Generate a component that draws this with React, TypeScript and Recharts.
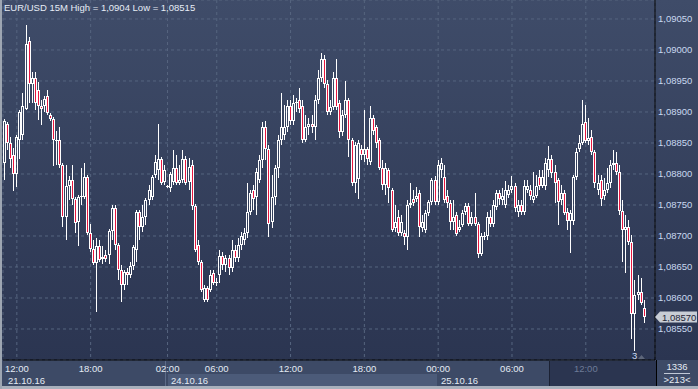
import React from "react";
import { ComposedChart, Bar, XAxis, YAxis, CartesianGrid } from "recharts";

// EUR/USD 15M, prices in 1e-5 above 1.08000: [open, high, low, close]
const ohlc: [number, number, number, number][] = [
  [818, 889, 790, 885], [881, 884, 839, 850], [850, 860, 810, 824], [831, 842, 772, 800],
  [800, 863, 779, 860], [855, 903, 824, 900], [863, 931, 855, 910], [905, 1040, 903, 1010],
  [1014, 1021, 914, 945], [945, 964, 914, 955], [955, 964, 903, 914], [935, 948, 887, 910],
  [910, 919, 879, 905], [910, 926, 900, 921], [926, 935, 895, 898], [895, 898, 885, 889],
  [889, 892, 813, 855], [853, 869, 814, 855], [855, 876, 810, 814], [814, 818, 714, 731],
  [731, 814, 693, 781], [781, 797, 758, 790], [790, 814, 750, 760], [760, 763, 705, 721],
  [722, 766, 684, 763], [763, 810, 750, 764], [763, 818, 760, 795], [795, 798, 702, 705],
  [705, 719, 674, 679], [679, 693, 653, 656], [656, 697, 577, 684], [684, 693, 658, 661],
  [663, 684, 655, 666], [669, 677, 658, 663], [669, 711, 655, 708], [708, 750, 693, 745],
  [745, 750, 677, 685], [685, 689, 629, 645], [645, 653, 594, 621], [621, 645, 613, 642],
  [642, 648, 621, 637], [637, 658, 632, 652], [652, 685, 645, 682], [677, 742, 658, 739],
  [739, 742, 693, 714], [714, 750, 706, 731], [731, 761, 718, 758], [758, 782, 750, 774],
  [763, 798, 758, 795], [798, 831, 793, 819], [806, 881, 790, 824], [824, 827, 782, 785],
  [787, 814, 782, 806], [779, 782, 777, 780], [777, 803, 771, 800], [787, 839, 782, 810],
  [810, 831, 782, 785], [785, 814, 782, 790], [790, 839, 785, 824], [824, 829, 782, 785],
  [787, 826, 774, 811], [814, 822, 742, 748], [748, 752, 674, 677], [685, 693, 653, 658],
  [658, 661, 610, 613], [597, 621, 594, 616], [616, 619, 594, 597], [613, 645, 610, 637],
  [640, 645, 621, 624], [624, 632, 619, 626], [637, 677, 624, 668], [668, 674, 645, 653],
  [653, 669, 642, 664], [664, 669, 637, 648], [648, 693, 642, 677], [677, 685, 658, 664],
  [664, 697, 658, 685], [685, 706, 677, 700], [693, 713, 685, 705], [705, 785, 697, 739],
  [739, 774, 734, 769], [774, 782, 742, 760], [763, 810, 734, 803], [790, 830, 785, 822],
  [822, 884, 810, 876], [876, 885, 822, 840], [840, 847, 698, 719], [722, 798, 713, 763],
  [763, 814, 750, 810], [810, 863, 793, 855], [855, 931, 847, 876], [863, 911, 855, 876],
  [876, 919, 868, 910], [910, 919, 879, 885], [885, 927, 879, 914], [914, 923, 900, 916],
  [919, 939, 898, 905], [910, 919, 850, 855], [855, 895, 852, 876], [876, 890, 863, 881],
  [881, 895, 866, 876], [876, 927, 855, 919], [919, 968, 913, 955], [955, 995, 948, 985],
  [985, 992, 939, 945], [945, 952, 895, 900], [900, 919, 895, 908], [908, 964, 903, 955],
  [955, 985, 903, 908], [914, 919, 858, 868], [868, 903, 861, 895], [895, 950, 890, 919],
  [919, 923, 827, 855], [855, 858, 781, 785], [785, 852, 769, 847], [792, 855, 760, 850],
  [840, 847, 822, 831], [831, 903, 819, 840], [840, 843, 814, 824], [819, 910, 814, 890],
  [890, 895, 863, 869], [876, 879, 842, 850], [855, 858, 806, 810], [810, 822, 774, 782],
  [782, 818, 766, 810], [806, 810, 753, 777], [774, 777, 706, 710], [713, 750, 706, 722],
  [731, 742, 700, 705], [705, 734, 700, 722], [705, 710, 685, 698], [698, 758, 677, 750],
  [750, 785, 745, 753], [760, 774, 748, 753], [760, 779, 755, 764], [769, 774, 698, 714],
  [713, 734, 706, 722], [710, 742, 705, 737], [737, 758, 732, 755], [755, 793, 750, 790],
  [790, 797, 750, 755], [755, 822, 750, 814], [806, 826, 793, 818], [795, 814, 753, 758],
  [764, 774, 745, 753], [753, 758, 710, 722], [722, 758, 710, 731], [734, 739, 700, 703],
  [710, 726, 706, 714], [718, 742, 714, 737], [739, 753, 734, 748], [748, 753, 716, 719],
  [719, 739, 716, 731], [731, 769, 716, 719], [719, 722, 664, 671], [671, 705, 668, 700],
  [698, 706, 693, 700], [700, 739, 693, 731], [731, 742, 714, 719], [719, 758, 714, 750],
  [747, 774, 742, 769], [769, 774, 750, 760], [758, 777, 750, 764], [750, 789, 745, 774],
  [766, 782, 761, 774], [774, 797, 769, 781], [781, 785, 739, 745], [739, 758, 731, 750],
  [750, 758, 734, 739], [739, 790, 734, 781], [774, 790, 769, 781], [774, 782, 758, 764],
  [758, 803, 753, 764], [764, 798, 761, 781], [795, 806, 774, 781], [781, 806, 777, 795],
  [781, 826, 774, 818], [806, 845, 795, 824], [824, 831, 793, 802], [803, 814, 753, 785],
  [790, 793, 718, 755], [758, 782, 750, 769], [769, 774, 734, 737], [739, 745, 710, 724],
  [724, 742, 672, 737], [724, 798, 718, 795], [795, 842, 790, 835], [840, 863, 835, 850],
  [850, 919, 847, 881], [884, 911, 850, 853], [853, 890, 847, 858], [860, 871, 831, 835],
  [835, 839, 777, 785], [774, 798, 766, 785], [790, 798, 748, 760], [764, 793, 758, 774],
  [774, 810, 769, 785], [785, 822, 777, 814], [814, 839, 806, 818], [818, 835, 798, 803],
  [803, 814, 734, 740], [740, 758, 658, 710], [710, 734, 640, 714], [714, 726, 685, 690],
  [690, 702, 534, 574], [574, 629, 515, 605], [605, 637, 597, 610], [610, 632, 589, 592],
  [584, 597, 560, 570],
];

const slotCount = 212;
const timeTicks = [4, 28, 53, 69, 93, 117, 141, 165, 189];
const timeLabels = ["12:00", "18:00", "02:00", "06:00", "12:00", "18:00", "00:00", "06:00", "12:00"];
const priceTicks = [1.0855, 1.086, 1.0865, 1.087, 1.0875, 1.088, 1.0885, 1.089, 1.0895, 1.09, 1.0905];
const dateLabels = [
  { text: "21.10.16", x: 8 },
  { text: "24.10.16", x: 171 },
  { text: "25.10.16", x: 441 },
];

const toPrice = (p: number) => 1.08 + p / 100000;
const fmt = (v: number) => v.toFixed(5).replace(".", ",");

const data = Array.from({ length: slotCount }, (_, i) => {
  const c = ohlc[i];
  if (!c) return { i, range: null };
  const [o, h, l, cl] = c;
  return {
    i,
    open: toPrice(o),
    high: toPrice(h),
    low: toPrice(l),
    close: toPrice(cl),
    range: [toPrice(l), toPrice(h)],
  };
});

const FONT = '"Liberation Sans", Arial, sans-serif';
const RED = "#e8163f";

function Candle(props: any) {
  const { x, y, width, height, payload } = props;
  if (!payload || payload.open == null) return null;
  const top = Math.min(y, y + height);
  const bot = Math.max(y, y + height);
  const span = payload.high - payload.low;
  const py = (v: number) => (span > 0 ? top + ((payload.high - v) / span) * (bot - top) : top);
  const left = Math.round(x + width / 2 - 1.5);
  const mid = left + 1.5;
  const bull = payload.close >= payload.open;
  const bTop = Math.round(py(Math.max(payload.open, payload.close)));
  const bBot = Math.round(py(Math.min(payload.open, payload.close)));
  const hi = Math.round(top);
  const lo = Math.round(bot);
  return (
    <g>
      {bTop > hi && <line x1={mid} x2={mid} y1={hi} y2={bTop} stroke="#fff" strokeWidth={1} />}
      {lo > bBot && <line x1={mid} x2={mid} y1={bBot} y2={lo} stroke="#fff" strokeWidth={1} />}
      {bBot - bTop < 2 ? (
        <line x1={left} x2={left + 3} y1={bTop + 0.5} y2={bTop + 0.5} stroke="#fff" strokeWidth={1} />
      ) : (
        <rect
          x={left + 0.5}
          y={bTop + 0.5}
          width={2}
          height={bBot - bTop - 1}
          fill={bull ? "none" : RED}
          stroke="#fff"
          strokeWidth={1}
        />
      )}
    </g>
  );
}

function TimeTick(props: any) {
  const { x, payload } = props;
  const k = timeTicks.indexOf(payload.value);
  const dim = payload.value === 189;
  return (
    <text x={x} y={372} textAnchor="middle" fontSize={9.5} fontFamily={FONT} fill={dim ? "#6d7b97" : "#e4eaf4"}>
      {timeLabels[k]}
    </text>
  );
}

function PriceTick(props: any) {
  const { y, payload } = props;
  return (
    <text x={658} y={y + 3.5} fontSize={9.5} fontFamily={FONT} fill="#c9d8f0">
      {fmt(payload.value)}
    </text>
  );
}

export default function App() {
  return (
    <div style={{ position: "absolute", left: 0, top: 0, width: 698, height: 389, overflow: "hidden", fontFamily: FONT }}>
      {/* plot + price panel background */}
      <div style={{ position: "absolute", left: 0, top: 0, width: 698, height: 360, background: "linear-gradient(to bottom, #3f4c69, #2b3551)" }} />
      {/* time axis panel */}
      <div style={{ position: "absolute", left: 0, top: 360, width: 698, height: 29, background: "#3d4a66" }} />
      <div style={{ position: "absolute", left: 168, top: 374, width: 269, height: 12, background: "#4c5b79" }} />
      <div style={{ position: "absolute", left: 165, top: 361, width: 1, height: 25, background: "#5d6c89" }} />
      <div style={{ position: "absolute", left: 549, top: 361, width: 107, height: 25, background: "#2b3550", borderLeft: "1px solid #1b2133" }} />
      <div style={{ position: "absolute", left: 656, top: 360, width: 1, height: 27, background: "#000" }} />
      <div style={{ position: "absolute", left: 0, top: 386, width: 698, height: 3, background: "#a8b0bc" }} />
      <div style={{ position: "absolute", left: 0, top: 0, width: 2, height: 389, background: "#9ea6b2" }} />

      <div style={{ position: "absolute", left: 0, top: 0 }}>
        <ComposedChart
          width={698}
          height={389}
          data={data}
          margin={{ top: 0, right: 0, bottom: 0, left: 3 }}
          barCategoryGap={0}
          barGap={0}
        >
          <CartesianGrid stroke="#56657f" strokeDasharray="3 3" />
          <XAxis
            dataKey="i"
            ticks={timeTicks}
            interval={0}
            height={29}
            tick={<TimeTick />}
            tickLine={false}
            axisLine={{ stroke: "#000" }}
          />
          <YAxis
            orientation="right"
            width={43}
            domain={[1.085, 1.090806]}
            ticks={priceTicks}
            allowDataOverflow
            tick={<PriceTick />}
            tickLine={false}
            axisLine={{ stroke: "#000" }}
          />
          <Bar dataKey="range" shape={<Candle />} isAnimationActive={false} />
        </ComposedChart>
      </div>

      {/* title */}
      <div style={{ position: "absolute", left: 4, top: 2, fontSize: 9.5, lineHeight: "12px", color: "#e6ecf6", whiteSpace: "nowrap" }}>
        EUR/USD 15M High = 1,0904 Low = 1,08515
      </div>

      {/* dates */}
      {dateLabels.map((d) => (
        <div key={d.text} style={{ position: "absolute", left: d.x, top: 375, fontSize: 9.5, lineHeight: "11px", color: "#e4eaf4" }}>
          {d.text}
        </div>
      ))}

      {/* current price marker and counters */}
      <svg style={{ position: "absolute", left: 0, top: 0 }} width={698} height={389}>
        <polygon points="655,317 660,311.5 697,311.5 697,322.5 660,322.5" fill="#c8cdd5" />
        <text x={662} y={320.5} fontSize={9.5} fontFamily={FONT} fill="#1e2535">
          1,08570
        </text>
        <text x={632} y={359} fontSize={9.5} fontFamily={FONT} fill="#c9d8f0">
          3
        </text>
        <polygon points="638,359 641.5,355 645,359" fill="#5d667a" />
        <line x1={664} x2={690} y1={373.5} y2={373.5} stroke="#c0c8d6" />
        <text x={677} y={370} textAnchor="middle" fontSize={9.5} fontFamily={FONT} fill="#e4eaf4">
          1336
        </text>
        <text x={677} y={382.5} textAnchor="middle" fontSize={9.5} fontFamily={FONT} fill="#e4eaf4">
          {">213<"}
        </text>
      </svg>
    </div>
  );
}
